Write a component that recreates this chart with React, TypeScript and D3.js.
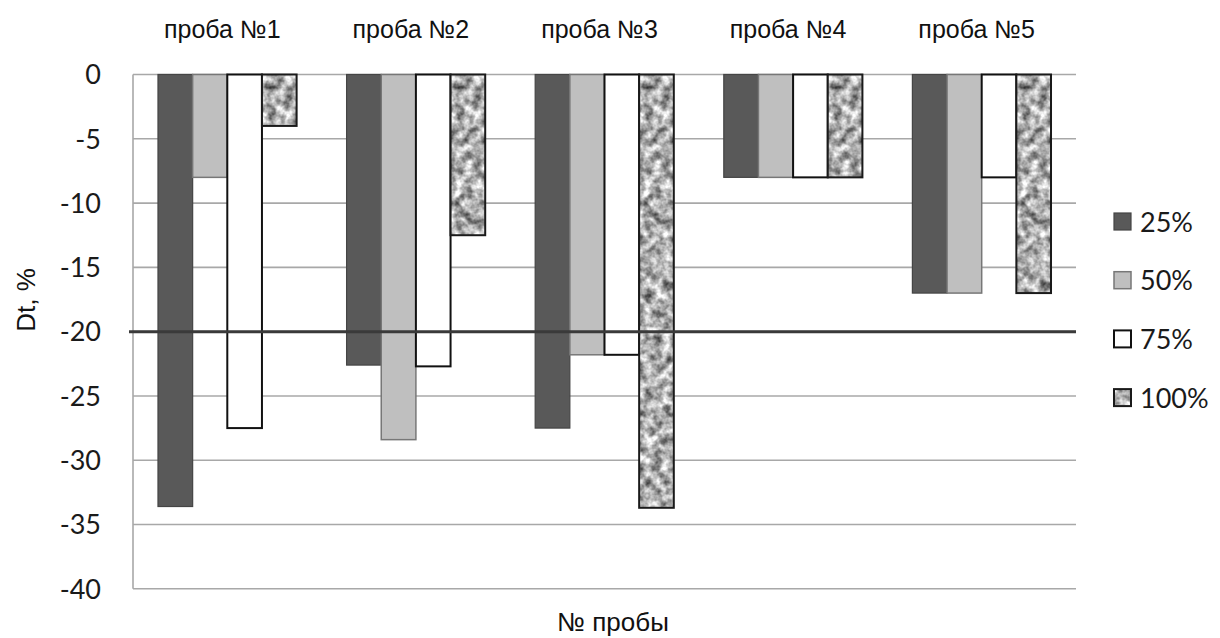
import React from "react";
import * as d3 from "d3";

const categories = ["проба №1", "проба №2", "проба №3", "проба №4", "проба №5"];
const seriesNames = ["25%", "50%", "75%", "100%"];
const v25 = [-33.6, -22.6, -27.5, -8.0, -17.0];
const v50 = [-8.0, -28.4, -21.8, -8.0, -17.0];
const v75 = [-27.5, -22.7, -21.8, -8.0, -8.0];
const v100 = [-4.0, -12.5, -33.7, -8.0, -17.0];
const yTicks = [0, -5, -10, -15, -20, -25, -30, -35, -40];
const threshold = -20;
const yTitle = "Dt, %";
const xTitle = "№ пробы";

const W = 1220;
const H = 638;
const plot = { left: 133, right: 1076, top: 74.5, bottom: 588.8 };

const styles = [
  { fill: "#595959", stroke: "#454545", sw: 1.2, tex: false },
  { fill: "#bfbfbf", stroke: "#777777", sw: 1.5, tex: false },
  { fill: "#ffffff", stroke: "#111111", sw: 2, tex: false },
  { fill: "#b0b0b0", stroke: "#1a1a1a", sw: 2, tex: true },
];

export default function App() {
  const seriesValues = [v25, v50, v75, v100];
  const x0 = d3
    .scaleBand<string>()
    .domain(categories)
    .range([plot.left, plot.right])
    .paddingInner(0.265)
    .paddingOuter(0.1325);
  const x1 = d3
    .scaleBand<string>()
    .domain(seriesNames)
    .range([0, x0.bandwidth()]);
  const y = d3.scaleLinear().domain([-40, 0]).range([plot.bottom, plot.top]);
  const tickFont = "Lato, 'Open Sans', sans-serif";
  const arial = "'Liberation Sans', Arial, sans-serif";

  return (
    <svg
      width={W}
      height={H}
      style={{ position: "absolute", left: 0, top: 0, background: "#fff" }}
    >
      <defs>
        <filter
          id="granite"
          x="0"
          y="0"
          width="100%"
          height="100%"
          filterUnits="objectBoundingBox"
          colorInterpolationFilters="sRGB"
        >
          <feTurbulence type="fractalNoise" baseFrequency="0.11" numOctaves={3} seed={7} result="t" />
          <feColorMatrix
            in="t"
            type="matrix"
            values="1.25 0 0 0 0.06  1.25 0 0 0 0.06  1.25 0 0 0 0.06  0 0 0 0 1"
            result="g"
          />
          <feComposite in="g" in2="SourceAlpha" operator="in" />
        </filter>
      </defs>
      <rect x={0} y={0} width={W} height={H} fill="#fff" />
      {yTicks.map((t) => (
        <line
          key={"g" + t}
          x1={plot.left}
          x2={plot.right}
          y1={y(t)}
          y2={y(t)}
          stroke="#a8a8a8"
          strokeWidth={1.6}
        />
      ))}
      <line
        x1={plot.left}
        x2={plot.left}
        y1={y(0)}
        y2={y(-40)}
        stroke="#a8a8a8"
        strokeWidth={1.6}
      />
      {yTicks.map((t) => (
        <text
          key={"t" + t}
          x={101}
          y={y(t)}
          dy="0.36em"
          textAnchor="end"
          fontFamily={tickFont}
          fontSize={27}
          fill="#1a1a1a"
        >
          {t}
        </text>
      ))}
      {categories.map((c, ci) => (
        <g key={c} transform={`translate(${x0(c)},0)`}>
          {seriesNames.map((s, si) => {
            const v = seriesValues[si][ci];
            const st = styles[si];
            const bx = x1(s)!;
            const by = y(0);
            const bh = y(v) - y(0);
            return (
              <g key={s}>
                {st.tex ? (
                  <rect x={bx} y={by} width={x1.bandwidth()} height={bh} fill="#000" filter="url(#granite)" />
                ) : (
                  <rect x={bx} y={by} width={x1.bandwidth()} height={bh} fill={st.fill} />
                )}
                <rect
                  x={bx}
                  y={by}
                  width={x1.bandwidth()}
                  height={bh}
                  fill="none"
                  stroke={st.stroke}
                  strokeWidth={st.sw}
                />
              </g>
            );
          })}
        </g>
      ))}
      <line
        x1={plot.left - 4}
        x2={plot.right}
        y1={y(threshold)}
        y2={y(threshold)}
        stroke="#3a3a3a"
        strokeWidth={3}
      />
      {categories.map((c) => (
        <text
          key={"c" + c}
          x={x0(c)! + x0.bandwidth() / 2 - 5}
          y={38}
          textAnchor="middle"
          fontFamily={arial}
          fontSize={25}
          fill="#111"
        >
          {c}
        </text>
      ))}
      <text
        x={613}
        y={631}
        textAnchor="middle"
        fontFamily={arial}
        fontSize={26}
        fill="#111"
      >
        {xTitle}
      </text>
      <text
        transform={`translate(35,${300}) rotate(-90)`}
        textAnchor="middle"
        fontFamily={arial}
        fontSize={26}
        fill="#111"
      >
        {yTitle}
      </text>
      {seriesNames.map((s, i) => {
        const st = styles[i];
        const cy = 222 + i * 58.7;
        return (
          <g key={"l" + s}>
            {st.tex ? (
              <rect x={1114} y={cy - 9} width={17} height={17} fill="#000" filter="url(#granite)" />
            ) : (
              <rect x={1114} y={cy - 9} width={17} height={17} fill={st.fill} />
            )}
            <rect
              x={1114}
              y={cy - 9}
              width={17}
              height={17}
              fill="none"
              stroke={st.stroke}
              strokeWidth={st.sw}
            />
            <text
              x={1140}
              y={cy}
              dy="0.36em"
              fontFamily={tickFont}
              fontSize={27}
              fill="#1a1a1a"
            >
              {s}
            </text>
          </g>
        );
      })}
    </svg>
  );
}
